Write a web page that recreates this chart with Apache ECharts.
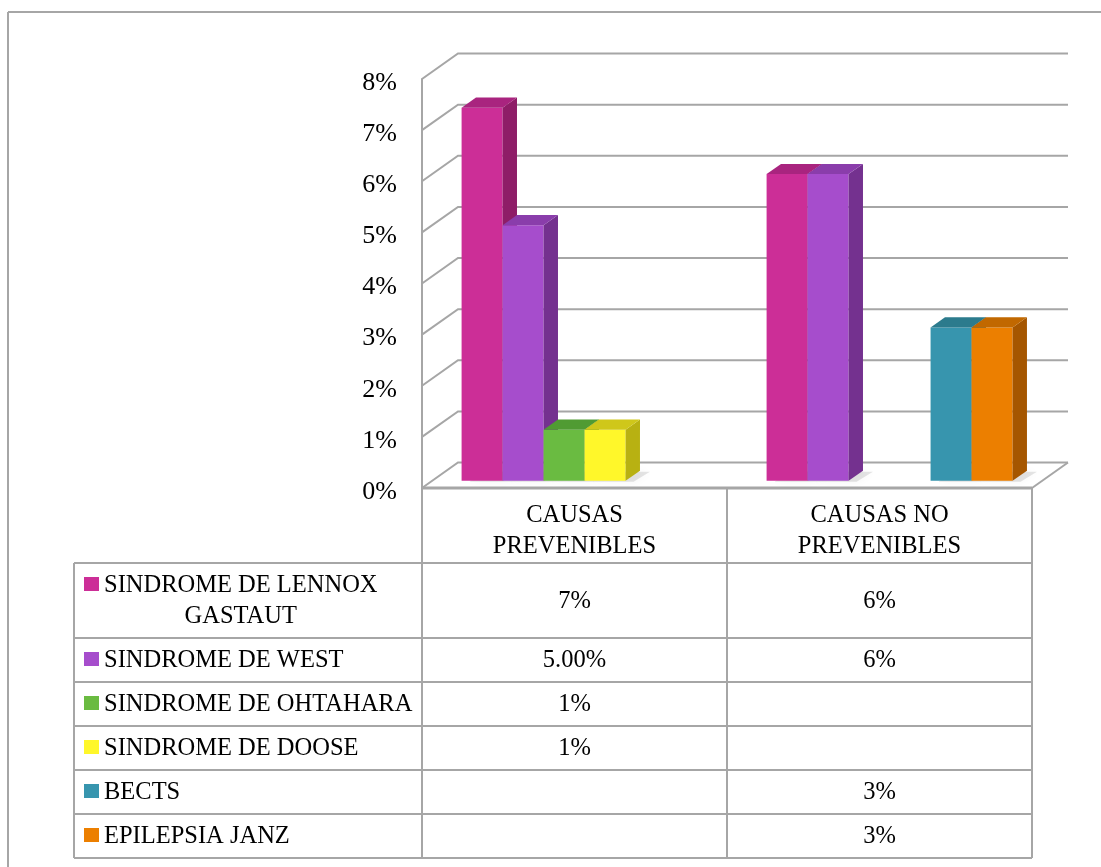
<!DOCTYPE html>
<html>
<head>
<meta charset="utf-8">
<title>Síndromes epilépticos por tipo de causa</title>
<script src="https://cdn.jsdelivr.net/npm/echarts@6/dist/echarts.min.js"></script>
<style>
  html, body { margin: 0; padding: 0; background: #ffffff; }
  #chart { width: 1101px; height: 867px; }
</style>
</head>
<body>
<div id="chart"></div>
<script>
// ---- data ----
const categories = ['CAUSAS PREVENIBLES', 'CAUSAS NO PREVENIBLES'];
const seriesNames = [
  'SINDROME DE LENNOX GASTAUT',
  'SINDROME DE WEST',
  'SINDROME DE OHTAHARA',
  'SINDROME DE DOOSE',
  'BECTS',
  'EPILEPSIA JANZ'
];
const lennoxValues   = [0.073, 0.06];
const westValues     = [0.05, 0.06];
const ohtaharaValues = [0.01, null];
const dooseValues    = [0.01, null];
const bectsValues    = [null, 0.03];
const janzValues     = [null, 0.03];
// number of decimals shown in each data-table cell
const lennoxDecimals   = [0, 0];
const westDecimals     = [2, 0];
const ohtaharaDecimals = [0, 0];
const dooseDecimals    = [0, 0];
const bectsDecimals    = [0, 0];
const janzDecimals     = [0, 0];
const yTicks = [0, 0.01, 0.02, 0.03, 0.04, 0.05, 0.06, 0.07, 0.08];
const yTickLabels = ['0%', '1%', '2%', '3%', '4%', '5%', '6%', '7%', '8%'];

const allValues = [lennoxValues, westValues, ohtaharaValues, dooseValues, bectsValues, janzValues];
const allDecimals = [lennoxDecimals, westDecimals, ohtaharaDecimals, dooseDecimals, bectsDecimals, janzDecimals];

// ---- styling ----
const FONT = '"Liberation Serif", "Times New Roman", serif';
const FONT_SIZE = 24.5;
const LINE_COLOR = '#A6A6A6';
// [front face, side face, top face]
const palette = [
  ['#CC2E97', '#8E1D67', '#A9247F'],
  ['#A64DCC', '#74318F', '#8A3DAB'],
  ['#6ABB41', '#4A8A2C', '#509B33'],
  ['#FFF72A', '#B8B112', '#CFC71A'],
  ['#3795AE', '#236776', '#2C7B8D'],
  ['#EC7F00', '#A55600', '#C16800']
];

// plot frame (front plane) and the oblique depth of the 3D box
const GRID = { left: 422, top: 79, width: 610, height: 409 };
const DEPTH_X = 36, DEPTH_Y = -25.5;
const BAR_FRONT = 0.28;   // where the bar front sits inside the depth
const BAR_DEPTH = 0.40;   // bar thickness as a share of the depth
const SLOTS = seriesNames.length;
const GAP = 1.44;         // space between clusters, in bar widths

function fmtPct(v, d) {
  return (v * 100).toFixed(d) + '%';
}

// gridlines on the back wall, the floor outline and the value labels
function renderWalls(params, api) {
  const cs = params.coordSys;
  const idx = params.dataIndex;
  const t = api.value(1);
  const y = api.coord([0, t])[1];
  const style = { stroke: LINE_COLOR, lineWidth: 2, fill: null };
  const children = [{
    type: 'polyline',
    shape: { points: [[cs.x, y], [cs.x + DEPTH_X, y + DEPTH_Y], [cs.x + cs.width + DEPTH_X, y + DEPTH_Y]] },
    style: style
  }, {
    type: 'text',
    style: {
      text: yTickLabels[idx], x: cs.x - 25, y: y + 4,
      fill: '#000000', font: '26px ' + FONT,
      align: 'right', verticalAlign: 'middle'
    }
  }];
  if (t === 0) {
    children.push({
      type: 'line',
      shape: { x1: cs.x + cs.width, y1: y, x2: cs.x + cs.width + DEPTH_X, y2: y + DEPTH_Y },
      style: style
    });
  }
  return { type: 'group', children: children };
}

function makeBarRenderer(idx) {
  const col = palette[idx];
  return function (params, api) {
    const cat = api.value(0);
    const v = api.value(1);
    if (v == null || isNaN(v)) return null;
    const band = api.size([1, 0])[0];
    const slot = band / (SLOTS + GAP);
    const basePt = api.coord([cat, 0]);
    const topY = api.coord([cat, v])[1];
    const fx = DEPTH_X * BAR_FRONT, fy = DEPTH_Y * BAR_FRONT;
    const dx = DEPTH_X * BAR_DEPTH, dy = DEPTH_Y * BAR_DEPTH;
    const x0 = basePt[0] - SLOTS * slot / 2 + idx * slot + fx;
    const x1 = x0 + slot;
    const yb = basePt[1] + fy;
    const yt = topY + fy;
    return {
      type: 'group',
      children: [
        {
          type: 'polygon',
          shape: { points: [[x0 + 8, yb + 1], [x1 + 8, yb + 1], [x1 + dx + 10, yb + dy + 1], [x0 + dx + 8, yb + dy + 1]] },
          style: { fill: 'rgba(0,0,0,0.10)', shadowBlur: 10, shadowColor: 'rgba(0,0,0,0.4)' }
        },
        {
          type: 'rect',
          shape: { x: x0, y: yt, width: slot, height: yb - yt },
          style: { fill: col[0] }
        },
        {
          type: 'polygon',
          shape: { points: [[x1, yb], [x1 + dx, yb + dy], [x1 + dx, yt + dy], [x1, yt]] },
          style: { fill: col[1] }
        },
        {
          type: 'polygon',
          shape: { points: [[x0, yt], [x1, yt], [x1 + dx, yt + dy], [x0 + dx, yt + dy]] },
          style: { fill: col[2] }
        }
      ]
    };
  };
}

// ---- data table under the plot ----
const measureCtx = document.createElement('canvas').getContext('2d');
measureCtx.font = FONT_SIZE + 'px ' + FONT;
function wrapText(text, maxW) {
  const words = text.split(' ');
  const lines = [];
  let cur = '';
  words.forEach(function (w) {
    const test = cur ? cur + ' ' + w : w;
    if (cur && measureCtx.measureText(test).width > maxW) {
      lines.push(cur);
      cur = w;
    } else {
      cur = test;
    }
  });
  if (cur) lines.push(cur);
  return lines;
}

function textEl(str, x, y, align) {
  return {
    type: 'text',
    silent: true,
    style: {
      text: str, x: x, y: y,
      fill: '#000000',
      font: FONT_SIZE + 'px ' + FONT,
      textAlign: align, textVerticalAlign: 'middle',
      align: align, verticalAlign: 'middle'
    }
  };
}
function lineEl(x1, y1, x2, y2, w) {
  return {
    type: 'line', silent: true,
    shape: { x1: x1, y1: y1, x2: x2, y2: y2 },
    style: { stroke: LINE_COLOR, lineWidth: w || 2 }
  };
}

function buildTable() {
  const els = [];
  const LINE_H = 31;
  const tableLeft = 74;
  const keyX = 84, textX = 104;
  const colX = [GRID.left, GRID.left + GRID.width / 2, GRID.left + GRID.width];
  const top = GRID.top + GRID.height;

  // header with category names
  const headerH = 75;
  categories.forEach(function (c, i) {
    const lines = wrapText(c, 200);
    const cx = (colX[i] + colX[i + 1]) / 2;
    const cy = top + headerH / 2 + 6;
    lines.forEach(function (ln, k) {
      els.push(textEl(ln, cx, cy + (k - (lines.length - 1) / 2) * LINE_H, 'center'));
    });
  });

  // series rows
  let y = top + headerH;
  const rowTops = [];
  seriesNames.forEach(function (name, s) {
    const lines = wrapText(name, 320);
    const h = 13 + LINE_H * lines.length;
    rowTops.push(y);
    const cy = y + h / 2 + 1;
    const firstY = cy - (lines.length - 1) / 2 * LINE_H;
    els.push({
      type: 'rect', silent: true,
      shape: { x: keyX, y: firstY - 9, width: 15, height: 14 },
      style: { fill: palette[s][0] }
    });
    if (lines.length > 1) {
      let maxW = 0;
      lines.forEach(function (ln) { maxW = Math.max(maxW, measureCtx.measureText(ln).width); });
      lines.forEach(function (ln, k) {
        els.push(textEl(ln, textX + maxW / 2, firstY + k * LINE_H, 'center'));
      });
    } else {
      els.push(textEl(lines[0], textX, cy, 'left'));
    }
    categories.forEach(function (c, i) {
      const v = allValues[s][i];
      if (v != null) {
        els.push(textEl(fmtPct(v, allDecimals[s][i]), (colX[i] + colX[i + 1]) / 2, cy, 'center'));
      }
    });
    y += h;
  });
  const bottom = y;

  // grid lines of the table
  els.push(lineEl(colX[0], top, colX[2], top, 3));
  rowTops.forEach(function (ry) { els.push(lineEl(tableLeft, ry, colX[2], ry)); });
  els.push(lineEl(tableLeft, bottom, colX[2], bottom));
  els.push(lineEl(tableLeft, rowTops[0], tableLeft, bottom));
  colX.forEach(function (x) { els.push(lineEl(x, top, x, bottom)); });

  // chart area frame
  els.push(lineEl(8, 12, 1101, 12));
  els.push(lineEl(8, 12, 8, 867));
  return els;
}

const chart = echarts.init(document.getElementById('chart'), null, { renderer: 'canvas' });

const series = [{
  type: 'custom',
  name: 'walls',
  silent: true,
  z: 1,
  renderItem: renderWalls,
  data: yTicks.map(function (t) { return [0, t]; })
}];
seriesNames.forEach(function (name, s) {
  series.push({
    type: 'custom',
    name: name,
    z: 2,
    renderItem: makeBarRenderer(s),
    data: categories.map(function (c, i) { return [i, allValues[s][i]]; })
  });
});

chart.setOption({
  backgroundColor: '#ffffff',
  animation: false,
  grid: { left: GRID.left, top: GRID.top, width: GRID.width, height: GRID.height, containLabel: false },
  xAxis: {
    type: 'category',
    data: categories,
    boundaryGap: true,
    axisLine: { show: false },
    axisTick: { show: false },
    axisLabel: { show: false },
    splitLine: { show: false }
  },
  yAxis: {
    type: 'value',
    min: 0,
    max: 0.08,
    interval: 0.01,
    axisLine: { show: true, lineStyle: { color: LINE_COLOR, width: 2 } },
    axisTick: { show: false },
    splitLine: { show: false },
    axisLabel: { show: false }
  },
  series: series,
  graphic: { elements: buildTable() }
});
</script>
</body>
</html>
